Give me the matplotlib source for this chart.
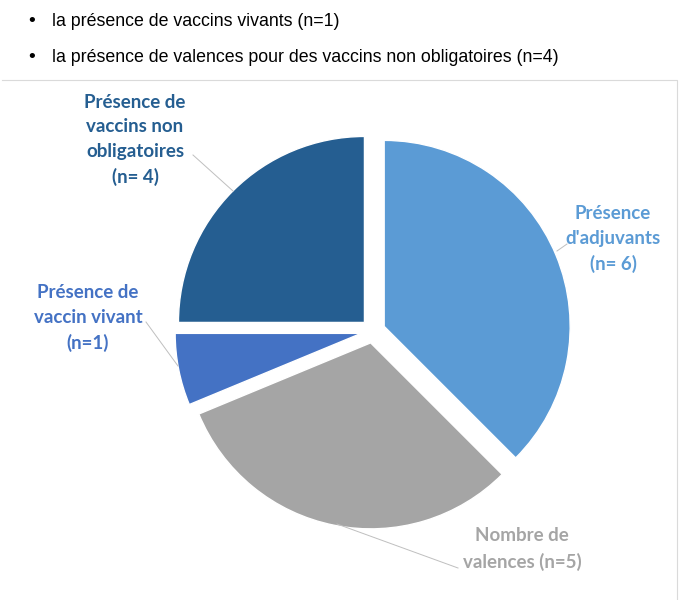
import matplotlib.pyplot as plt

plt.rcParams['font.family'] = ['Lato', 'DejaVu Sans']

# données du graphique (sens horaire depuis le haut)
categories = ["Présence\nd'adjuvants\n(n= 6)", "Nombre de\nvalences (n=5)",
              "Présence de\nvaccin vivant\n(n=1)", "Présence de\nvaccins non\nobligatoires\n(n= 4)"]
valeurs = [6, 5, 1, 4]
couleurs = ['#5B9BD5', '#A5A5A5', '#4472C4', '#255E91']
puces = ["la présence de vaccins vivants (n=1)",
         "la présence de valences pour des vaccins non obligatoires (n=4)"]

W, H = 681, 600
CX, CY, R = 373, 331, 186  # centre et rayon du camembert en pixels


def px(x, y):
    # pixels (origine en haut à gauche) -> coordonnées de données
    return (x - CX) / R, (CY - y) / R


fig = plt.figure(figsize=(W / 100, H / 100), dpi=100)
ax = fig.add_axes([0, 0, 1, 1])
ax.axis('off')

# cadre du graphique (haut et droite)
cadre = [(2, 80), (677, 80), (677, 600)]
ax.plot([px(*p)[0] for p in cadre], [px(*p)[1] for p in cadre],
        color='#DADADA', linewidth=0.8)

# puces en haut
for i, t in enumerate(puces):
    yy = 22 + i * 35
    ax.text(*px(32, yy), "•", fontsize=14, family='Liberation Sans', ha='center', va='center')
    ax.text(*px(52, yy), t, fontsize=12.8, family='Liberation Sans', ha='left', va='center')

ax.pie(valeurs, colors=couleurs, startangle=90, counterclock=False,
       explode=[0.065] * 4, radius=1, center=(0, 0),
       wedgeprops=dict(edgecolor='white', linewidth=1))
ax.set_xlim(-CX / R, (W - CX) / R)
ax.set_ylim(-(H - CY) / R, CY / R)
ax.set_aspect('equal')

# étiquettes
pos_labels = [(613, 239), (522, 549), (88, 318), (135, 140)]
for lab, c, (lx, ly) in zip(categories, couleurs, pos_labels):
    ax.text(*px(lx, ly), lab, color=c, fontsize=13.5, fontweight='bold',
            ha='center', va='center', linespacing=1.55)

# lignes de rappel
rappels = [((567, 244), (557, 251)), ((458, 568), (337, 524)),
           ((146, 322), (178, 366)), ((193, 155), (233, 191))]
for a, b in rappels:
    xa, ya = px(*a)
    xb, yb = px(*b)
    ax.plot([xa, xb], [ya, yb], color='#BFBFBF', linewidth=0.7)

fig.savefig('out.png', dpi=100)
